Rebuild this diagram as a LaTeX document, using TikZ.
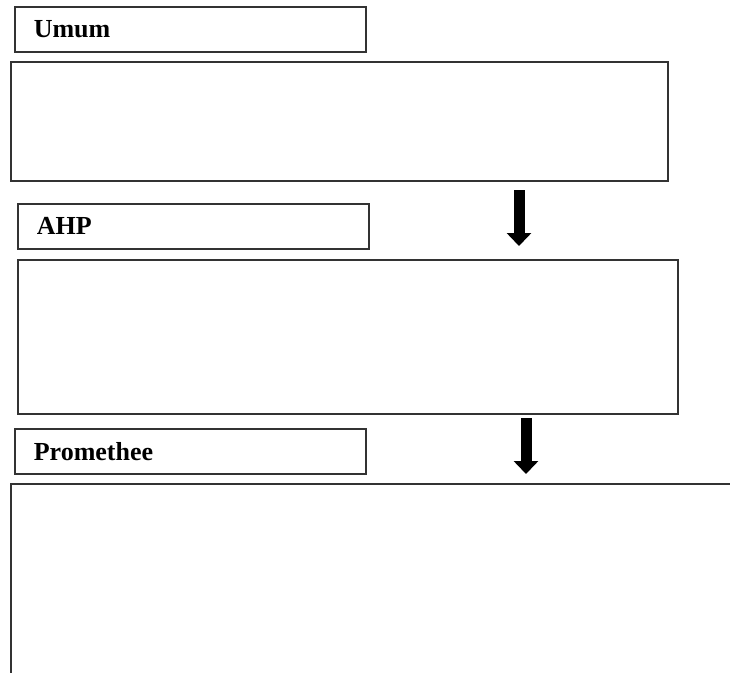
\documentclass[tikz,border=0pt]{standalone}
\usepackage{fontspec}
\setmainfont{Liberation Serif}
\usetikzlibrary{arrows.meta}

\tikzset{
  labelbox/.style={draw=black!80, line width=1.6pt, anchor=north west,
    minimum height=45pt, text width=313pt, inner xsep=19pt, align=left,
    font=\fontsize{26}{30}\selectfont\bfseries},
  contentbox/.style={draw=black!80, line width=1.6pt, anchor=north west, inner sep=0pt},
  downarrow/.style={line width=11pt, -{Triangle[length=13pt, width=24pt]}}
}

\begin{document}
\begin{tikzpicture}[x=1pt, y=-1pt]
\useasboundingbox (0,0) rectangle (730,672);
\clip (0,0) rectangle (730,672);

\node[labelbox] (umum) at (14,6) {Umum};
\node[contentbox, minimum width=657pt, minimum height=119pt] (umumbody) at (10,61) {};

\node[labelbox] (ahp) at (17,203) {AHP};
\node[contentbox, minimum width=660pt, minimum height=154pt] (ahpbody) at (17,259) {};

\node[labelbox] (promethee) at (14,428) {Promethee};
\node[contentbox, minimum width=760pt, minimum height=220pt] (prometheebody) at (10,483) {};

% arrows between the sections
\coordinate (arrowa) at (519,190);
\coordinate (arrowb) at (519,246);
\coordinate (arrowc) at (526,418);
\coordinate (arrowd) at (526,474);
\draw[downarrow] (arrowa) -- (arrowb);
\draw[downarrow] (arrowc) -- (arrowd);
\end{tikzpicture}
\end{document}
